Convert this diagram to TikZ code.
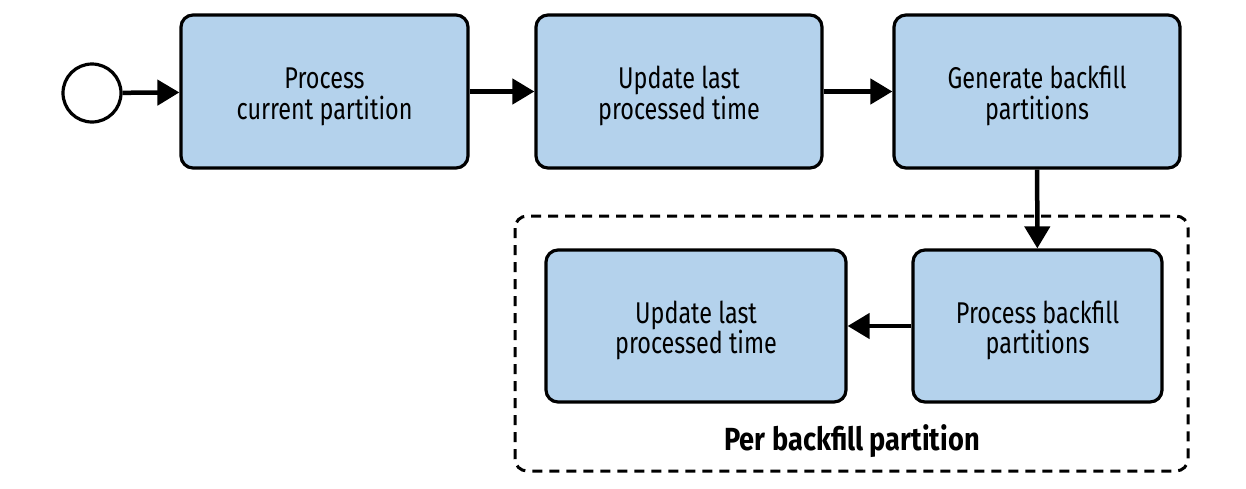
\documentclass[tikz,border=0pt]{standalone}
\usepackage{fontspec}
\setmainfont{Fira Sans}[FakeStretch=0.78]
\newfontfamily\grouplabelfont{Fira Sans}[FakeStretch=0.85]
\usetikzlibrary{arrows.meta}
\definecolor{boxblue}{RGB}{180,210,236}
\newcommand{\tallstrut}{\rule{0pt}{31pt}}
\tikzset{
  x=1pt, y=-1pt,
  task/.style={draw=black, line width=3.2pt, fill=boxblue, rounded corners=12pt,
    align=center, font=\fontsize{30}{30.5}\selectfont, inner sep=0pt},
  flow/.style={line width=4.5pt, -{Triangle[length=22pt,width=25pt]}},
  group/.style={draw=black, line width=3pt, dash pattern=on 10pt off 7pt, rounded corners=12pt},
}
\begin{document}
\begin{tikzpicture}
\useasboundingbox (0,0) rectangle (1246,488);
\node[draw=black, line width=3.2pt, circle, minimum size=58pt, inner sep=0pt] (start) at (92,93) {};
\node[task, minimum width=287pt, minimum height=153pt] (p1) at (324.5,91.5) {\tallstrut Process\\current partition};
\node[task, minimum width=286pt, minimum height=153pt] (p2) at (679,91.5) {\tallstrut Update last\\processed time};
\node[task, minimum width=286pt, minimum height=153pt] (p3) at (1037,91.5) {\tallstrut Generate backfill\\partitions};
\node[task, minimum width=249pt, minimum height=152pt] (p4) at (1037.5,326) {\tallstrut Process backfill\\partitions};
\node[task, minimum width=300pt, minimum height=152pt] (p5) at (696,326) {\tallstrut Update last\\processed time};
\draw[group] (515,216) rectangle (1188,471);
\node[font=\grouplabelfont\fontsize{32}{34}\selectfont\bfseries] (lbl) at (852,441) {Per backfill partition};
\draw[flow] (start) -- (p1);
\draw[flow] (p1) -- (p2);
\draw[flow] (p2) -- (p3);
\draw[flow] (p3) -- (p4);
\draw[flow] (p4) -- (p5);
\end{tikzpicture}
\end{document}
